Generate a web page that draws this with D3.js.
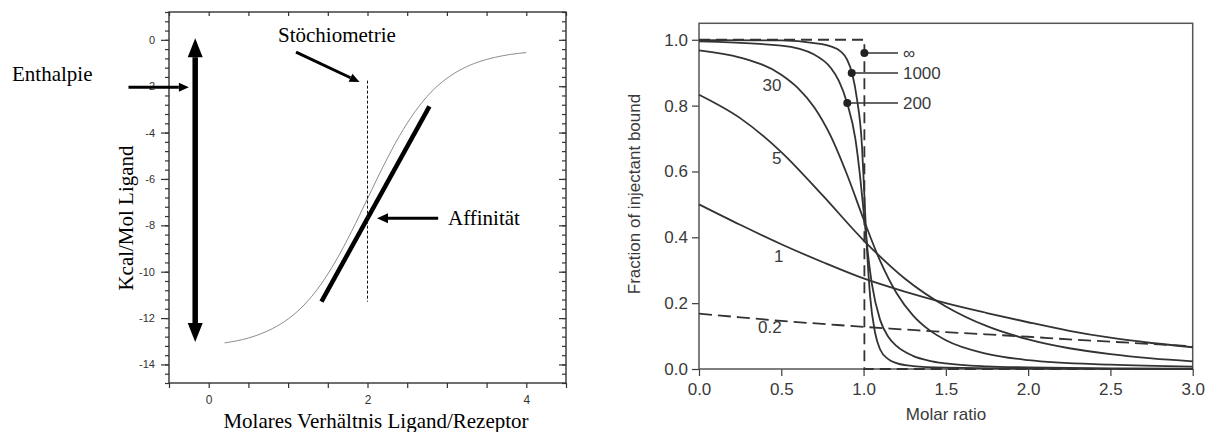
<!DOCTYPE html>
<html>
<head>
<meta charset="utf-8">
<script src="https://cdn.jsdelivr.net/npm/d3@7"></script>
<style>
  body { margin: 0; background: #fff; }
  svg { display: block; }
  .serif { font-family: "Liberation Serif", "Times New Roman", serif; }
  .sans { font-family: "Liberation Sans", Arial, sans-serif; }
</style>
</head>
<body>
<div id="chart"></div>
<script>
// left panel: ITC titration curve (kcal/mol ligand vs molar ratio)
const itcRatio = [0.2, 0.5, 0.8, 1.0, 1.2, 1.4, 1.6, 1.8, 2.0, 2.2, 2.4, 2.6, 2.8, 3.0, 3.2, 3.4, 3.6, 3.8, 4.0];
const itcHeat = [-13.07, -12.86, -12.46, -12.04, -11.44, -10.61, -9.54, -8.26, -6.85, -5.44, -4.16, -3.09, -2.26, -1.66, -1.24, -0.95, -0.76, -0.63, -0.55];
const slopeX = [1.42, 2.78];
const slopeY = [-11.29, -2.87];
const stoichX = 2;
const stoichY = [-1.76, -11.29];
const itcYTicks = [0, -2, -4, -6, -8, -10, -12, -14];
const itcXLabels = [0, 2, 4];

// right panel: fraction of injectant bound for several c values
const ratioGrid = [0, 0.25, 0.5, 0.75, 1.0, 1.25, 1.5, 1.75, 2.0, 2.25, 2.5, 2.75, 3.0];
const bound02 = [0.168, 0.157, 0.146, 0.137, 0.128, 0.120, 0.112, 0.105, 0.098, 0.090, 0.083, 0.076, 0.069];
const bound1 = [0.5, 0.438, 0.379, 0.325, 0.275, 0.235, 0.2, 0.17, 0.142, 0.116, 0.095, 0.079, 0.066];
const bound5 = [0.833, 0.762, 0.659, 0.528, 0.391, 0.275, 0.19, 0.13, 0.09, 0.063, 0.045, 0.032, 0.023];
const ratio30 = [0, 0.25, 0.5, 0.6, 0.7, 0.8, 0.9, 1.0, 1.1, 1.2, 1.3, 1.4, 1.5, 1.75, 2.0, 2.5, 3.0];
const bound30 = [0.968, 0.946, 0.894, 0.854, 0.795, 0.708, 0.59, 0.455, 0.329, 0.231, 0.163, 0.118, 0.0875, 0.046, 0.027, 0.013, 0.007];
const ratio200 = [0, 0.5, 0.7, 0.8, 0.85, 0.9, 0.95, 0.98, 1.0, 1.02, 1.05, 1.1, 1.15, 1.2, 1.3, 1.4, 1.5, 1.75, 2.0, 2.5, 3.0];
const bound200 = [0.995, 0.982, 0.955, 0.915, 0.875, 0.808, 0.70, 0.58, 0.48, 0.38, 0.26, 0.15, 0.098, 0.07, 0.04, 0.025, 0.017, 0.008, 0.005, 0.002, 0.001];
const ratio1000 = [0, 0.5, 0.7, 0.8, 0.86, 0.9, 0.93, 0.96, 0.99, 1.0, 1.01, 1.02, 1.04, 1.07, 1.1, 1.15, 1.2, 1.3, 1.5, 2.0, 3.0];
const bound1000 = [0.999, 0.998, 0.99, 0.98, 0.965, 0.94, 0.899, 0.82, 0.68, 0.58, 0.47, 0.37, 0.22, 0.11, 0.06, 0.03, 0.018, 0.009, 0.004, 0.001, 0.0];
const ratioInf = [0, 1.005, 1.005, 3];
const boundInf = [1, 1, 0, 0];
const dotNames = ["\u221e", "1000", "200"];
const dotX = [1.005, 0.928, 0.901];
const dotY = [0.96, 0.899, 0.808];
const curveNames = ["30", "5", "1", "0.2"];
const fracTicks = [0, 0.2, 0.4, 0.6, 0.8, 1.0];
const ratioTicks = [0, 0.5, 1.0, 1.5, 2.0, 2.5, 3.0];

const W = 1213, H = 432;
const svg = d3.select("#chart").append("svg")
  .attr("width", W)
  .attr("height", H);

svg.append("rect").attr("width", W).attr("height", H).attr("fill", "#fff");

// ---------- left panel ----------
const lx = d3.scaleLinear().domain([-0.5, 4.5]).range([169, 566]);
const ly = d3.scaleLinear().domain([-14.8, 1.2]).range([383, 12]);
const L = svg.append("g");
const axisCol = "#333";

const minorY = d3.range(0, 41).map(i => +(1.2 - i * 0.4).toFixed(1));
const xHalf = d3.range(0, 11).map(i => -0.5 + i * 0.5);

function styleAxis(g, col, size) {
  g.select(".domain").remove();
  g.selectAll("line").attr("stroke", col).attr("stroke-width", 1.2);
  g.selectAll("text").attr("fill", col).attr("font-size", size)
    .attr("font-family", '"Liberation Sans", Arial, sans-serif');
}

// left axis, outward ticks
L.append("g").attr("transform", "translate(169,0)")
  .call(d3.axisLeft(ly).tickValues(minorY).tickSize(4).tickFormat(""))
  .call(g => styleAxis(g, axisCol, 11));
L.append("g").attr("transform", "translate(169,0)")
  .call(d3.axisLeft(ly).tickValues(itcYTicks).tickSize(8).tickPadding(6).tickFormat(d => String(d)))
  .call(g => styleAxis(g, axisCol, 11));
// right border, inward ticks
L.append("g").attr("transform", "translate(566,0)")
  .call(d3.axisRight(ly).tickValues(minorY).tickSize(-4).tickFormat(""))
  .call(g => styleAxis(g, axisCol, 11));
L.append("g").attr("transform", "translate(566,0)")
  .call(d3.axisRight(ly).tickValues(itcYTicks).tickSize(-7).tickFormat(""))
  .call(g => styleAxis(g, axisCol, 11));
// bottom axis
L.append("g").attr("transform", "translate(0,383)")
  .call(d3.axisBottom(lx).tickValues(xHalf).tickSize(5).tickPadding(7)
    .tickFormat(d => itcXLabels.includes(d) ? d : ""))
  .call(g => styleAxis(g, axisCol, 12));
// top border
L.append("g").attr("transform", "translate(0,12)")
  .call(d3.axisTop(lx).tickValues(xHalf).tickSize(-4).tickFormat(""))
  .call(g => styleAxis(g, axisCol, 11));

L.append("rect")
  .attr("x", 169).attr("y", 12)
  .attr("width", 566 - 169).attr("height", 383 - 12)
  .attr("fill", "none").attr("stroke", axisCol).attr("stroke-width", 1.4);

// titration curve
const itcLine = d3.line()
  .x(d => lx(d[0]))
  .y(d => ly(d[1]))
  .curve(d3.curveMonotoneX);
L.append("path")
  .datum(d3.zip(itcRatio, itcHeat))
  .attr("d", itcLine)
  .attr("fill", "none")
  .attr("stroke", "#8c8c8c")
  .attr("stroke-width", 1);

// slope line
L.append("line")
  .attr("x1", lx(slopeX[0])).attr("y1", ly(slopeY[0]))
  .attr("x2", lx(slopeX[1])).attr("y2", ly(slopeY[1]))
  .attr("stroke", "#000").attr("stroke-width", 4.5);

// stoichiometry dotted line
L.append("line")
  .attr("x1", lx(stoichX)).attr("y1", ly(stoichY[0]))
  .attr("x2", lx(stoichX)).attr("y2", ly(stoichY[1]))
  .attr("stroke", "#111").attr("stroke-width", 1)
  .attr("stroke-dasharray", "3,2");

// arrows
function head(g, x1, y1, x2, y2, hl, hw) {
  const len = Math.hypot(x2 - x1, y2 - y1);
  const ux = (x2 - x1) / len, uy = (y2 - y1) / len;
  const bx = x2 - ux * hl, by = y2 - uy * hl;
  g.append("path")
    .attr("d", `M${x2},${y2}L${bx - uy * hw / 2},${by + ux * hw / 2}L${bx + uy * hw / 2},${by - ux * hw / 2}Z`)
    .attr("fill", "#000");
  return [bx, by];
}
function arrow(g, x1, y1, x2, y2, w, hl, hw) {
  const b = head(g, x1, y1, x2, y2, hl, hw);
  g.append("line")
    .attr("x1", x1).attr("y1", y1).attr("x2", b[0]).attr("y2", b[1])
    .attr("stroke", "#000").attr("stroke-width", w);
}

// enthalpy double arrow
const ex = lx(-0.17), eTop = ly(0.07), eBot = ly(-13.03);
const bTop = head(L, ex, eBot, ex, eTop, 19, 15);
const bBot = head(L, ex, eTop, ex, eBot, 19, 15);
L.append("line")
  .attr("x1", ex).attr("y1", bTop[1]).attr("x2", ex).attr("y2", bBot[1])
  .attr("stroke", "#000").attr("stroke-width", 5.5);

arrow(L, lx(-1.01), ly(-2.04), lx(-0.25), ly(-2.04), 3, 10, 9);
arrow(L, lx(1.10), ly(-0.53), lx(1.90), ly(-1.82), 3, 10, 9);
arrow(L, lx(2.89), ly(-7.70), lx(2.12), ly(-7.70), 3, 11, 10);

L.append("text").attr("class", "serif")
  .attr("x", 12).attr("y", 81).attr("font-size", 21).text("Enthalpie");
L.append("text").attr("class", "serif")
  .attr("x", 278).attr("y", 42).attr("font-size", 21).text("Stöchiometrie");
L.append("text").attr("class", "serif")
  .attr("x", 448).attr("y", 225).attr("font-size", 21).text("Affinität");
L.append("text").attr("class", "serif")
  .attr("x", 376).attr("y", 428).attr("font-size", 21)
  .attr("text-anchor", "middle").text("Molares Verhältnis Ligand/Rezeptor");
L.append("text").attr("class", "serif")
  .attr("transform", "translate(133,218) rotate(-90)")
  .attr("font-size", 21).attr("text-anchor", "middle")
  .text("Kcal/Mol Ligand");

// ---------- right panel ----------
const rx = d3.scaleLinear().domain([0, 3]).range([699, 1192.7]);
const ry = d3.scaleLinear().domain([0, 1.05]).range([369, 23.3]);
const R = svg.append("g");
const rCol = "#3a3a3a";

R.append("g").attr("transform", "translate(699,0)")
  .call(d3.axisLeft(ry).tickValues(fracTicks).tickSize(7).tickPadding(4).tickFormat(d3.format(".1f")))
  .call(g => styleAxis(g, rCol, 17));
R.append("g").attr("transform", "translate(0,369)")
  .call(d3.axisBottom(rx).tickValues(ratioTicks).tickSize(7).tickPadding(7).tickFormat(d3.format(".1f")))
  .call(g => styleAxis(g, rCol, 17));
R.append("rect")
  .attr("x", 699).attr("y", 23.3)
  .attr("width", 1192.7 - 699).attr("height", 369 - 23.3)
  .attr("fill", "none").attr("stroke", "#555").attr("stroke-width", 1.5);

const fracLine = d3.line()
  .x(d => rx(d[0]))
  .y(d => ry(d[1]))
  .curve(d3.curveMonotoneX);

const series = [
  { xs: ratioGrid, ys: bound1, dash: null },
  { xs: ratioGrid, ys: bound5, dash: null },
  { xs: ratio30, ys: bound30, dash: null },
  { xs: ratio200, ys: bound200, dash: null },
  { xs: ratio1000, ys: bound1000, dash: null },
  { xs: ratioGrid, ys: bound02, dash: "13,6" }
];

R.selectAll("path.iso")
  .data(series)
  .enter()
  .append("path")
  .attr("class", "iso")
  .attr("d", s => fracLine(d3.zip(s.xs, s.ys)))
  .attr("fill", "none")
  .attr("stroke", "#333")
  .attr("stroke-width", 1.8)
  .attr("stroke-dasharray", s => s.dash);

// c = infinity step
R.append("path")
  .datum(d3.zip(ratioInf, boundInf))
  .attr("d", d3.line().x(d => rx(d[0])).y(d => ry(d[1])))
  .attr("fill", "none")
  .attr("stroke", "#333")
  .attr("stroke-width", 1.8)
  .attr("stroke-dasharray", "11,6");

// dots with leader lines
const leaderEnd = rx(1.209);
R.selectAll("line.lead")
  .data(dotNames)
  .enter()
  .append("line")
  .attr("x1", (d, i) => rx(dotX[i]))
  .attr("y1", (d, i) => ry(dotY[i]))
  .attr("x2", leaderEnd)
  .attr("y2", (d, i) => ry(dotY[i]))
  .attr("stroke", "#333")
  .attr("stroke-width", 1.5);
R.selectAll("circle")
  .data(dotNames)
  .enter()
  .append("circle")
  .attr("cx", (d, i) => rx(dotX[i]))
  .attr("cy", (d, i) => ry(dotY[i]))
  .attr("r", 4)
  .attr("fill", "#222");
R.selectAll("text.dotlab")
  .data(dotNames)
  .enter()
  .append("text")
  .attr("class", "dotlab sans")
  .attr("x", leaderEnd + 5)
  .attr("y", (d, i) => ry(dotY[i]))
  .attr("dy", "0.36em")
  .attr("font-size", 17)
  .attr("fill", rCol)
  .text(d => d);

// curve labels
const labPos = [[0.444, 0.844], [0.472, 0.622], [0.485, 0.325], [0.431, 0.110]];
R.selectAll("text.curvelab")
  .data(curveNames)
  .enter()
  .append("text")
  .attr("class", "curvelab sans")
  .attr("x", (d, i) => rx(labPos[i][0]))
  .attr("y", (d, i) => ry(labPos[i][1]))
  .attr("text-anchor", "middle")
  .attr("font-size", 17)
  .attr("fill", rCol)
  .text(d => d);

R.append("text").attr("class", "sans")
  .attr("x", 946).attr("y", 420)
  .attr("text-anchor", "middle").attr("font-size", 17).attr("fill", rCol)
  .text("Molar ratio");
R.append("text").attr("class", "sans")
  .attr("transform", "translate(640,194) rotate(-90)")
  .attr("text-anchor", "middle").attr("font-size", 17).attr("fill", rCol)
  .text("Fraction of injectant bound");
</script>
</body>
</html>
